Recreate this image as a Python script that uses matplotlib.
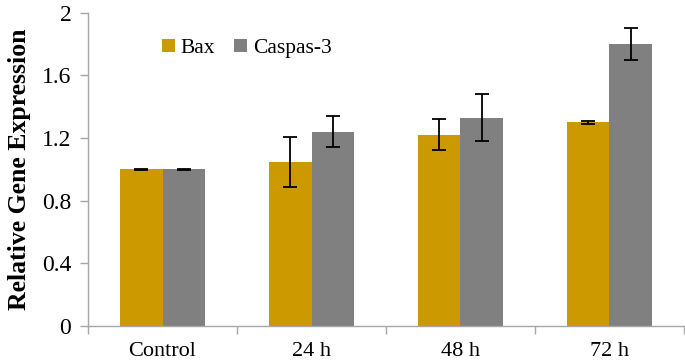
import matplotlib
matplotlib.use("Agg")
import matplotlib.pyplot as plt
import numpy as np

categories = ["Control", "24 h", "48 h", "72 h"]
bax = [1.0, 1.045, 1.22, 1.30]
bax_err = [0.003, 0.16, 0.10, 0.01]
casp = [1.0, 1.24, 1.33, 1.80]
casp_err = [0.003, 0.10, 0.15, 0.10]
yticks = [0, 0.4, 0.8, 1.2, 1.6, 2.0]
ytick_labels = ["0", "0.4", "0.8", "1.2", "1.6", "2"]

plt.rcParams['font.family'] = ['Liberation Serif', 'DejaVu Serif']

fig = plt.figure(figsize=(6.85, 3.64), dpi=100)
ax = fig.add_axes([0.1285, 0.1052, 0.87, 0.8598])

x = np.arange(len(categories))
w = 0.285
spine_c = "#A6A6A6"
ax.bar(x - w/2, bax, w, color="#CC9900", label="Bax", zorder=2)
ax.bar(x + w/2, casp, w, color="#808080", label="Caspas-3", zorder=2)
ek = dict(ecolor="black", elinewidth=1.3, capsize=5, capthick=1.3, fmt="none", zorder=3)
ax.errorbar(x - w/2, bax, yerr=bax_err, **ek)
ax.errorbar(x + w/2, casp, yerr=casp_err, **ek)

ax.set_xlim(-0.5, 3.5)
ax.set_ylim(0, 2)
ax.set_yticks(yticks)
ax.set_yticklabels(ytick_labels, fontsize=17)
ax.set_xticks(x)
ax.set_xticklabels(categories, fontsize=16)
ax.tick_params(axis='x', which='major', length=0, pad=12)
ax.set_xticks(np.arange(-0.5, 4.0, 1.0), minor=True)
ax.tick_params(axis='x', which='minor', length=6, color=spine_c, width=1)
ax.tick_params(axis='y', length=6, color=spine_c, width=1, pad=6)
for s in ["top", "right"]:
    ax.spines[s].set_visible(False)
for s in ["left", "bottom"]:
    ax.spines[s].set_color(spine_c)
    ax.spines[s].set_linewidth(1)
ax.set_ylabel("Relative Gene Expression", fontsize=18.5, fontweight="bold", labelpad=8)

ax.legend(loc="upper left", bbox_to_anchor=(0.11, 0.945), ncol=2, frameon=False,
          fontsize=15.5, handlelength=0.6, handleheight=0.6, handletextpad=0.25,
          columnspacing=0.9, borderaxespad=0)

fig.savefig("out.png", dpi=100)
